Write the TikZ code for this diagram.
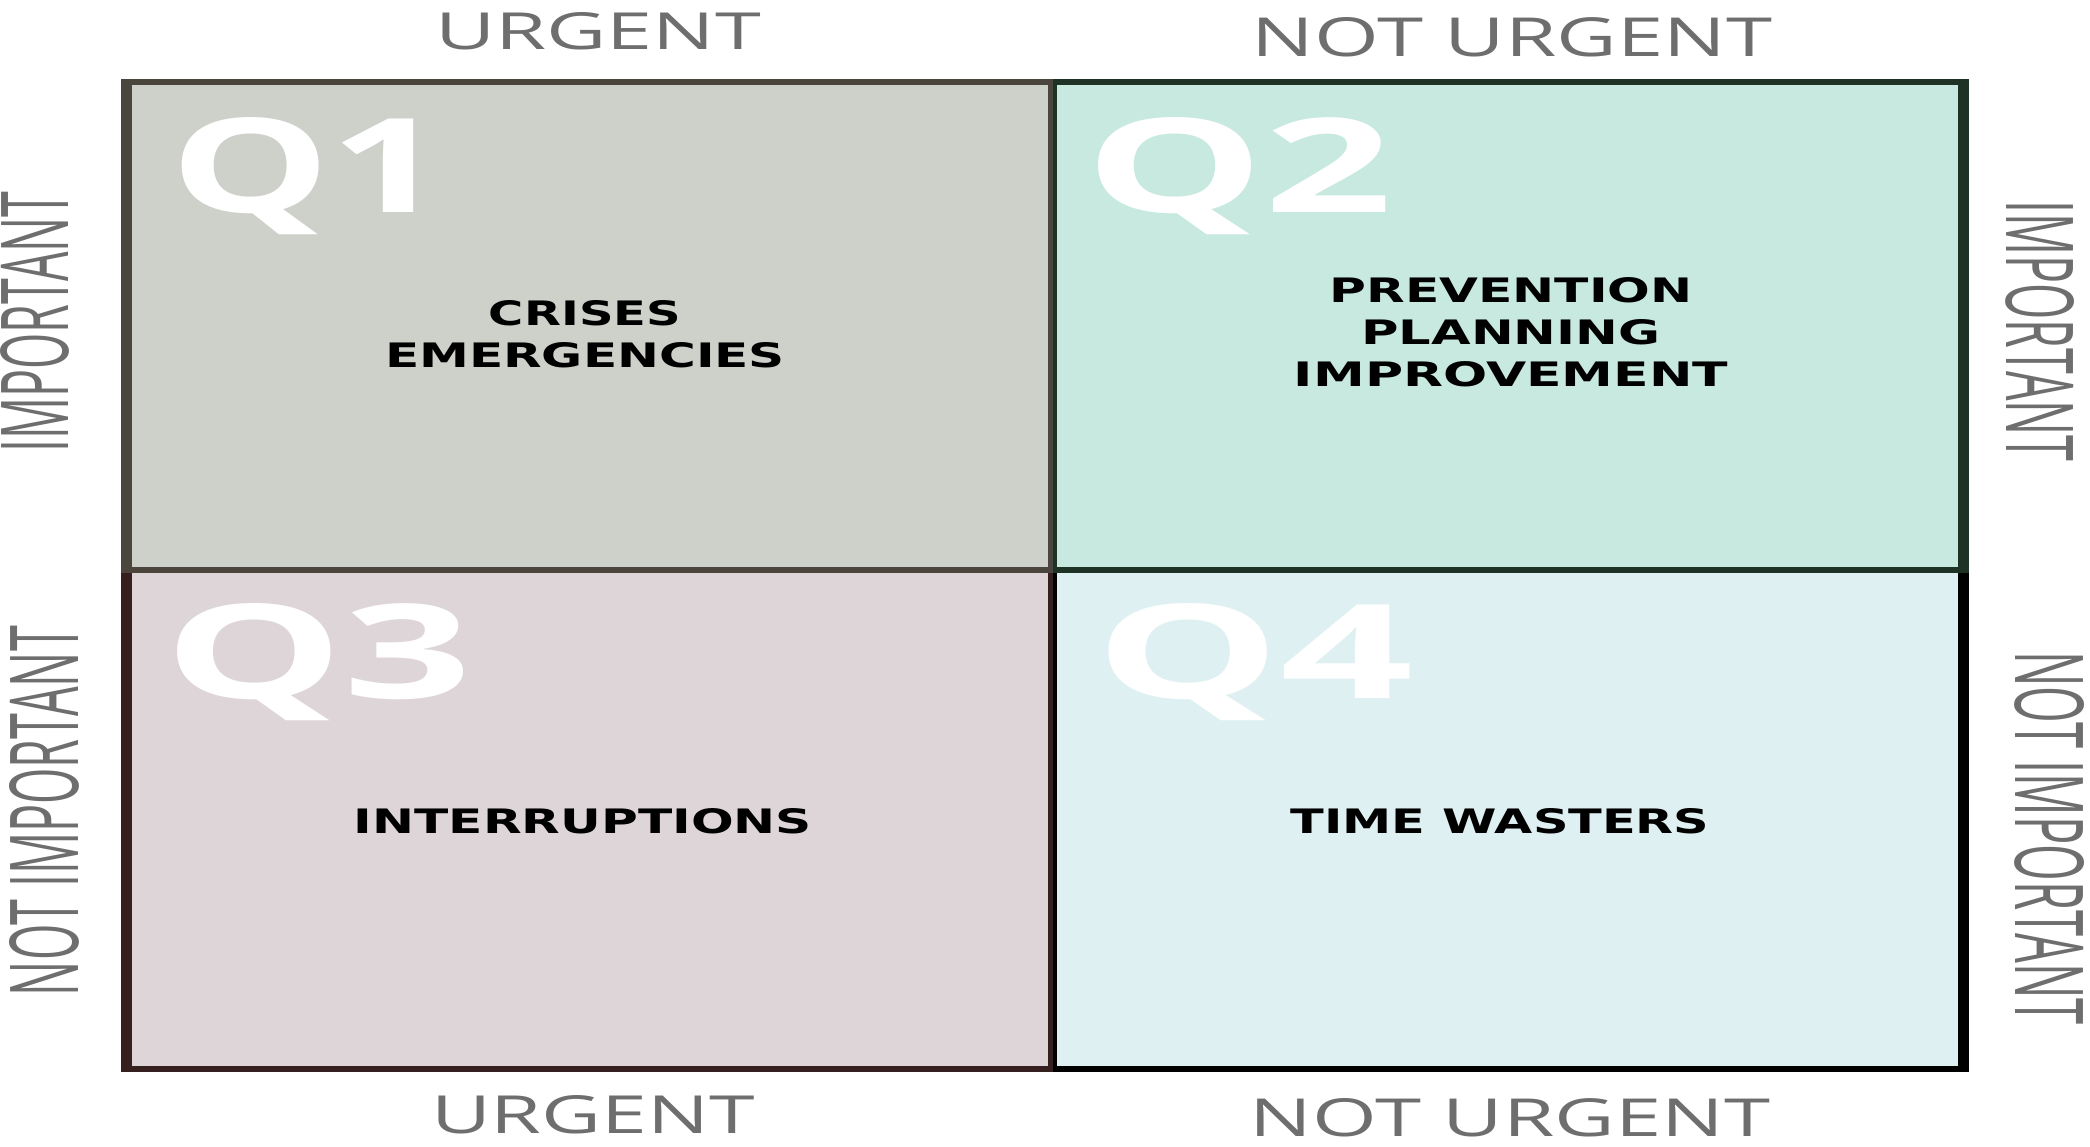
\documentclass[tikz,border=0pt]{standalone}
\usepackage{fontspec}
\usepackage{graphicx}
\usepackage{xcolor}
\setmainfont{Open Sans}
\newfontfamily\axisfont{Open Sans}
\newfontfamily\quadfont{Open Sans}
\newfontfamily\taskfont{DejaVu Sans}

\definecolor{qonefill}{HTML}{CED1CA}
\definecolor{qoneline}{HTML}{4A463E}
\definecolor{qtwofill}{HTML}{C8E9E0}
\definecolor{qtwoline}{HTML}{1E3326}
\definecolor{qthreefill}{HTML}{DED5D8}
\definecolor{qthreeline}{HTML}{35201F}
\definecolor{qfourfill}{HTML}{DFF0F3}
\definecolor{qfourline}{HTML}{000000}
\definecolor{axisgray}{HTML}{6E6E6E}

\begin{document}
\begin{tikzpicture}[x=1pt, y=-1pt]
    \tikzstyle{axis} = [inner sep=0pt, text=axisgray, font=\axisfont]
    \tikzstyle{quad} = [inner sep=0pt, anchor=base west, text=white, font=\quadfont\bfseries]
    \tikzstyle{task} = [inner sep=0pt, anchor=north, align=center, font=\taskfont\bfseries\fontsize{20}{42}\selectfont]

    \useasboundingbox (0,0) rectangle (2090,1146);

    % the four cells: border colour first, fill on top
    \fill[qoneline] (121,79) rectangle (1053,573);
    \fill[qonefill] (132,85) rectangle (1048,567);
    \fill[qtwoline] (1053,79) rectangle (1969,573);
    \fill[qtwofill] (1057,85) rectangle (1958,567);
    \fill[qthreeline] (121,573) rectangle (1053,1072);
    \fill[qthreefill] (132,573) rectangle (1048,1066);
    \fill[qfourline] (1053,573) rectangle (1969,1072);
    \fill[qfourfill] (1057,573) rectangle (1958,1066);

    \node[quad] (q1) at (170,212) {\resizebox{275pt}{95pt}{Q1}};
    \node[quad] (q2) at (1085,212) {\resizebox{307pt}{95pt}{Q2}};
    \node[quad] (q3) at (164,698) {\resizebox{308pt}{95pt}{Q3}};
    \node[quad] (q4) at (1095,698) {\resizebox{318pt}{95pt}{Q4}};

    \node[task] (crises) at (585,300) {\resizebox{192pt}{25pt}{CRISES}\\
        \resizebox{400pt}{25pt}{EMERGENCIES}};
    \node[task] (prevention) at (1511,277) {\resizebox{363pt}{25pt}{PREVENTION}\\
        \resizebox{299pt}{25pt}{PLANNING}\\
        \resizebox{434pt}{25pt}{IMPROVEMENT}};
    \node[task] (interrupt) at (583,808) {\resizebox{458pt}{25pt}{INTERRUPTIONS}};
    \node[task] (wasters) at (1500,808) {\resizebox{419pt}{25pt}{TIME WASTERS}};

    % axis labels round the grid
    \node[axis] (urgtop) at (598,31.5) {\resizebox{326pt}{37pt}{URGENT}};
    \node[axis] (noturgtop) at (1512,37.5) {\resizebox{520pt}{39pt}{NOT URGENT}};
    \node[axis] (urgbot) at (593,1115) {\resizebox{324pt}{38pt}{URGENT}};
    \node[axis] (noturgbot) at (1510,1118) {\resizebox{520pt}{38pt}{NOT URGENT}};
    \node[axis, rotate=90] (impleft) at (35,322) {\resizebox{261pt}{68pt}{IMPORTANT}};
    \node[axis, rotate=90] (notimpleft) at (44.5,811) {\resizebox{370pt}{69pt}{NOT IMPORTANT}};
    \node[axis, rotate=-90] (impright) at (2040,331) {\resizebox{261pt}{68pt}{IMPORTANT}};
    \node[axis, rotate=-90] (notimpright) at (2049.5,838) {\resizebox{373pt}{69pt}{NOT IMPORTANT}};
\end{tikzpicture}
\end{document}
